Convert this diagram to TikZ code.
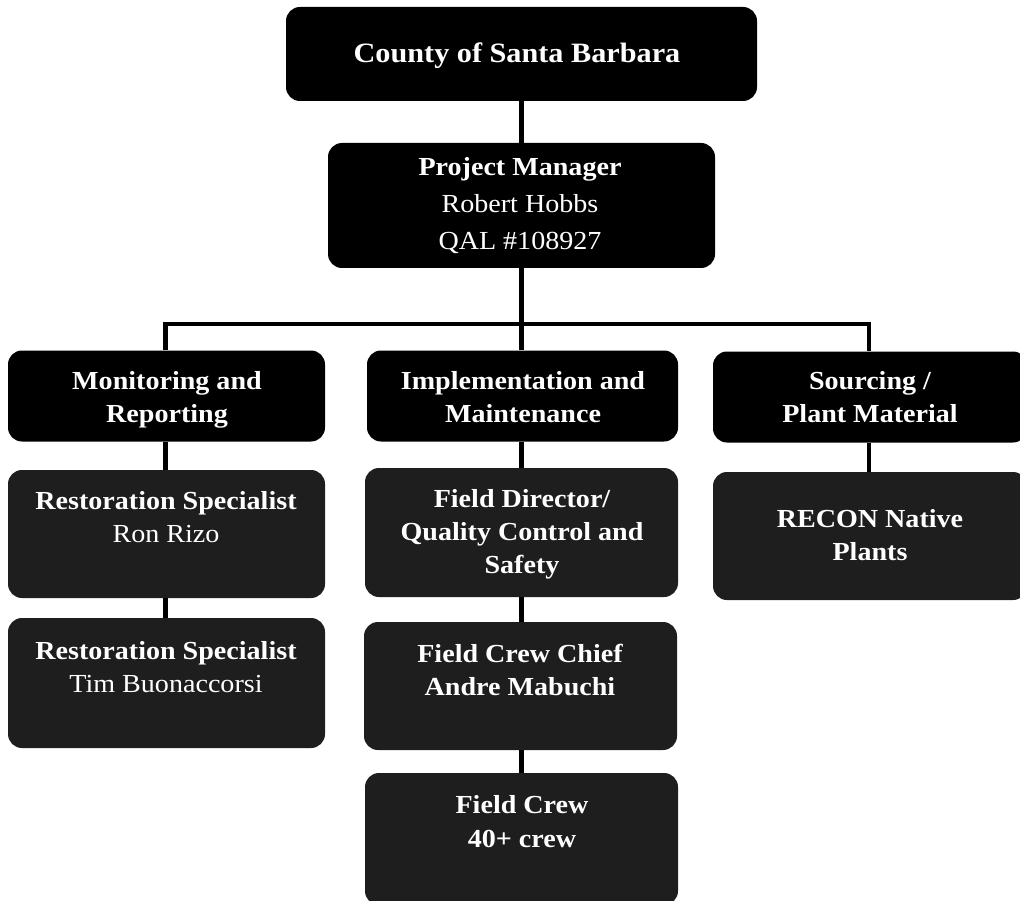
\documentclass[tikz,border=0pt]{standalone}
\usepackage{fontspec}
\setmainfont{Liberation Serif}[FakeStretch=1.08]
\definecolor{subgray}{RGB}{30,30,30}
\begin{document}
\begin{tikzpicture}[x=1pt,y=-1pt,
  topbox/.style={fill=black, draw=none, rounded corners=14pt, inner sep=0pt, minimum width=#1},
  subbox/.style={fill=subgray, draw=none, rounded corners=14pt, inner sep=0pt, minimum width=#1},
  txt/.style={text=white, align=center, inner sep=0pt, anchor=base, font=\fontsize{26}{32.5}\selectfont},
  conn/.style={draw=black, line width=4.5pt}
]
\useasboundingbox (0,0) rectangle (1020,901);
\clip (0,0) rectangle (1020,901);

% boxes
\node[topbox=471, minimum height=94] (county) at (521.5,54) {};
\node[topbox=387, minimum height=125] (pm) at (521.5,205.5) {};
\node[topbox=317, minimum height=91] (mon) at (166.5,396) {};
\node[topbox=311, minimum height=91] (imp) at (522.5,396) {};
\node[topbox=314, minimum height=91] (src) at (870,397) {};
\node[subbox=317, minimum height=128] (rs1) at (166.5,534) {};
\node[subbox=317, minimum height=130] (rs2) at (166.5,683) {};
\node[subbox=313, minimum height=129] (fd) at (521.5,532.5) {};
\node[subbox=313, minimum height=128] (fcc) at (520.5,686) {};
\node[subbox=313, minimum height=132] (fc) at (521.5,839) {};
\node[subbox=314, minimum height=128] (recon) at (870,536) {};

% spine coordinates
\coordinate (spine) at (521.5,0);
\coordinate (barL) at (165.5,324);
\coordinate (barM) at (521.5,324);
\coordinate (barR) at (869,324);

% connectors
\draw[conn] (county.south -| spine) -- (pm.south -| spine) -- (barM);
\draw[conn] ([xshift=-2.25pt]barL) -- ([xshift=2.25pt]barR);
\draw[conn] (barL) -- (mon.north -| barL);
\draw[conn] (barM) -- (imp.north -| barM);
\draw[conn] (barR) -- (src.north -| barR);
\draw[conn] (mon.south -| barL) -- (rs1.north -| barL);
\draw[conn] (rs1.south -| barL) -- (rs2.north -| barL);
\draw[conn] (imp.south -| barM) -- (fd.north -| barM);
\draw[conn] (fd.south -| barM) -- (fcc.north -| barM);
\draw[conn] (fcc.south -| barM) -- (fc.north -| barM);
\draw[conn] (src.south -| barR) -- (recon.north -| barR);

% texts (anchor base = baseline of last line)
\node[txt, font=\fontsize{28}{34}\selectfont\bfseries] (tcounty) at (517,63) {County of Santa Barbara};
\node[txt, font=\fontsize{26}{37}\selectfont] (tpm) at (520,250) {\textbf{Project Manager}\\Robert Hobbs\\QAL \#108927};
\node[txt, font=\fontsize{26}{32.5}\selectfont\bfseries] (tmon) at (167,422) {Monitoring and\\Reporting};
\node[txt, font=\fontsize{26}{32.5}\selectfont\bfseries] (timp) at (523,422) {Implementation and\\Maintenance};
\node[txt, font=\fontsize{26}{32.5}\selectfont\bfseries] (tsrc) at (870,422) {Sourcing /\\Plant Material};
\node[txt] (trs1) at (166,542) {\textbf{Restoration Specialist}\\Ron Rizo};
\node[txt] (trs2) at (166,692) {\textbf{Restoration Specialist}\\Tim Buonaccorsi};
\node[txt, font=\fontsize{26}{33}\selectfont\bfseries] (tfd) at (522,573) {Field Director/\\Quality Control and\\Safety};
\node[txt, font=\fontsize{26}{33}\selectfont\bfseries] (tfcc) at (520,695) {Field Crew Chief\\Andre Mabuchi};
\node[txt, font=\fontsize{26}{34}\selectfont\bfseries] (tfc) at (522,847) {Field Crew\\40+ crew};
\node[txt, font=\fontsize{26}{33}\selectfont\bfseries] (trecon) at (870,560) {RECON Native\\Plants};
\end{tikzpicture}
\end{document}
